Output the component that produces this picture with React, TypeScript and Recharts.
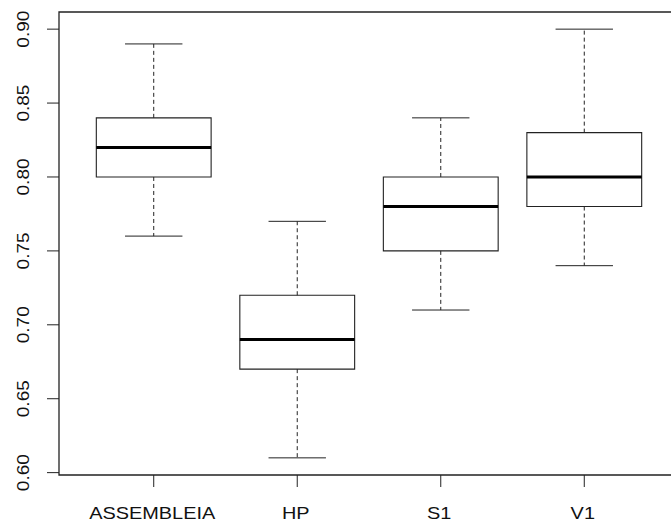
import React from "react";
import {
  ComposedChart,
  XAxis,
  YAxis,
  Scatter,
  ReferenceArea,
  ReferenceLine,
} from "recharts";

const categories = ["ASSEMBLEIA", "HP", "S1", "V1"];
const lowerWhisker = [0.76, 0.61, 0.71, 0.74];
const lowerQuartile = [0.8, 0.67, 0.75, 0.78];
const medians = [0.82, 0.69, 0.78, 0.8];
const upperQuartile = [0.84, 0.72, 0.8, 0.83];
const upperWhisker = [0.89, 0.77, 0.84, 0.9];
const yTicks = [0.6, 0.65, 0.7, 0.75, 0.8, 0.85, 0.9];

const INK = "#222";
const FONT = "'Liberation Sans', Arial, sans-serif";

// R pads the data range by 4% on each side
const yMin = Math.min(...lowerWhisker);
const yMax = Math.max(...upperWhisker);
const yPad = (yMax - yMin) * 0.04;
const yDomain = [yMin - yPad, yMax + yPad];
const xPad = categories.length * 0.04;
const xDomain = [0.5 - xPad, categories.length + 0.5 + xPad];

const points = categories.map((name, i) => ({ x: i + 1, y: medians[i], name }));

const XTick = (props: any) => {
  const { x, payload } = props;
  return (
    <g transform={`translate(${x - 1.5}, 519) scale(1.17, 1)`}>
      <text x={0} y={0} textAnchor="middle" fontSize={17} fontFamily={FONT} fill="#111">
        {categories[payload.value - 1]}
      </text>
    </g>
  );
};

const YTick = (props: any) => {
  const { y, payload } = props;
  return (
    <g transform={`translate(28.5, ${y}) rotate(-90) scale(1.12, 1)`}>
      <text x={0} y={0} textAnchor="middle" fontSize={17} fontFamily={FONT} fill="#111">
        {Number(payload.value).toFixed(2)}
      </text>
    </g>
  );
};

export default function App() {
  return (
    <div style={{ position: "absolute", left: 0, top: 0, background: "#fff" }}>
      <ComposedChart
        width={680}
        height={527}
        data={points}
        margin={{ top: 12, right: 1, left: 0, bottom: 0 }}
      >
        <XAxis
          dataKey="x"
          type="number"
          domain={xDomain}
          allowDataOverflow
          ticks={[1, 2, 3, 4]}
          tick={<XTick />}
          tickSize={12}
          tickLine={{ stroke: INK }}
          axisLine={false}
          height={52}
        />
        <YAxis
          dataKey="y"
          type="number"
          domain={yDomain}
          allowDataOverflow
          ticks={yTicks}
          tick={<YTick />}
          tickSize={12}
          tickLine={{ stroke: INK }}
          axisLine={false}
          width={59}
        />

        {/* plot frame */}
        <ReferenceArea
          x1={xDomain[0]}
          x2={xDomain[1]}
          y1={yDomain[0]}
          y2={yDomain[1]}
          fill="none"
          stroke={INK}
          strokeWidth={1.3}
          ifOverflow="visible"
        />

        {categories.map((name, i) => {
          const c = i + 1;
          return (
            <React.Fragment key={name}>
              {/* whiskers */}
              <ReferenceLine
                segment={[{ x: c, y: upperQuartile[i] }, { x: c, y: upperWhisker[i] }]}
                stroke={INK}
                strokeDasharray="4 3"
              />
              <ReferenceLine
                segment={[{ x: c, y: lowerQuartile[i] }, { x: c, y: lowerWhisker[i] }]}
                stroke={INK}
                strokeDasharray="4 3"
              />
              {/* caps */}
              <ReferenceLine
                segment={[{ x: c - 0.2, y: upperWhisker[i] }, { x: c + 0.2, y: upperWhisker[i] }]}
                stroke={INK}
              />
              <ReferenceLine
                segment={[{ x: c - 0.2, y: lowerWhisker[i] }, { x: c + 0.2, y: lowerWhisker[i] }]}
                stroke={INK}
              />
              {/* box */}
              <ReferenceArea
                x1={c - 0.4}
                x2={c + 0.4}
                y1={lowerQuartile[i]}
                y2={upperQuartile[i]}
                fill="none"
                stroke={INK}
                strokeWidth={1.1}
              />
              {/* median */}
              <ReferenceLine
                segment={[{ x: c - 0.4, y: medians[i] }, { x: c + 0.4, y: medians[i] }]}
                stroke="#000"
                strokeWidth={3}
              />
            </React.Fragment>
          );
        })}

        <Scatter dataKey="y" shape={() => <g />} isAnimationActive={false} />
      </ComposedChart>
    </div>
  );
}
